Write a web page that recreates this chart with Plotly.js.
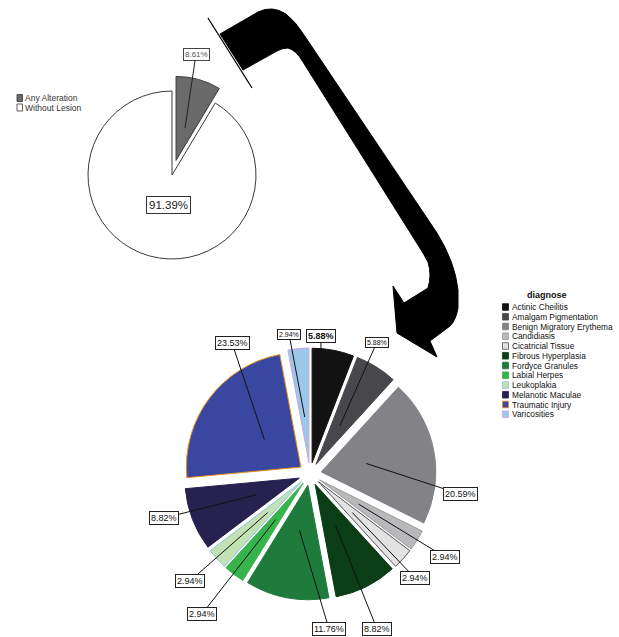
<!DOCTYPE html>
<html>
<head>
<meta charset="utf-8">
<script src="https://cdn.plot.ly/plotly-3.0.1.min.js"></script>
<style>html,body{margin:0;padding:0;background:#fff;}#chart{width:619px;height:637px;}</style>
</head>
<body>
<div id="chart"></div>
<script>
// ---------- data ----------
var overviewLabels = ['Any Alteration', 'Without Lesion'];
var overviewValues = [8.61, 91.39];

var diagnoseLabels = ['Actinic Cheilitis', 'Amalgam Pigmentation', 'Benign Migratory Erythema', 'Candidiasis',
  'Cicatricial Tissue', 'Fibrous Hyperplasia', 'Fordyce Granules', 'Labial Herpes', 'Leukoplakia',
  'Melanotic Maculae', 'Traumatic Injury', 'Varicosities'];
var diagnoseCounts = [2, 2, 7, 1, 1, 3, 4, 1, 1, 3, 8, 1];

// ---------- styles / geometry ----------
var W = 619, H = 637;
var overviewColors = ['#6a6a6a', '#ffffff'];
var diagnoseColors = ['#121212', '#48484c', '#828287', '#b9b9bc', '#e2e2e2', '#0b3d16', '#1f7b3c',
  '#37b34b', '#c2e2b4', '#27214f', '#3a47a0', '#9cc6ea'];
var diagnoseLineColors = ['#121212', '#48484c', '#828287', '#9a9a9e', '#555555', '#0b3d16', '#1f7b3c',
  '#37b34b', '#8fc0e8', '#27214f', '#e8901c', '#c9a8de'];

var small = {cx: 172, cy: 175, r: 84, pull: 0.18};
var big = {cx: 310, cy: 474, r: 114.5, pull: 0.1};

// label box centres (text placement only)
var diagLabelPos = [[321, 336], [377, 342], [460, 494], [445, 557], [415, 578], [377, 629], [329, 629],
  [202, 614], [190, 581], [164, 518], [232, 343], [289, 334]];
var diagLabelSize = [9, 7, 9, 9, 9, 9, 9, 9, 9, 9, 9, 7];
var diagLabelBold = [true, false, false, false, false, false, false, false, false, false, false, false];

function domainFor(g) {
  var R = g.r * (1 + g.pull);
  return {x: [(g.cx - R) / W, (g.cx + R) / W], y: [1 - (g.cy + R) / H, 1 - (g.cy - R) / H]};
}
function midAngles(vals) {
  var tot = vals.reduce(function (a, b) { return a + b; }, 0), cum = 0, out = [];
  vals.forEach(function (v) { out.push(2 * Math.PI * (cum + v / 2) / tot); cum += v; });
  return out;
}
function pct(vals) {
  var tot = vals.reduce(function (a, b) { return a + b; }, 0);
  return vals.map(function (v) { return (v / tot * 100).toFixed(2) + '%'; });
}

var traces = [
  {
    type: 'pie', labels: overviewLabels, values: overviewValues, sort: false, direction: 'clockwise',
    rotation: 0, pull: [small.pull, 0], textinfo: 'none', hoverinfo: 'label+percent',
    marker: {colors: overviewColors, line: {color: '#3a3a3a', width: 1}},
    domain: domainFor(small), showlegend: false
  },
  {
    type: 'pie', labels: diagnoseLabels, values: diagnoseCounts, sort: false, direction: 'clockwise',
    rotation: 0, pull: diagnoseCounts.map(function () { return big.pull; }), textinfo: 'none',
    hoverinfo: 'label+percent',
    marker: {colors: diagnoseColors, line: {color: diagnoseLineColors, width: 1}},
    domain: domainFor(big), showlegend: false
  }
];

var annotations = [];
var shapes = [];

// big pie labels with leader lines
var bigAng = midAngles(diagnoseCounts);
var bigTxt = pct(diagnoseCounts);
bigAng.forEach(function (a, i) {
  var d = big.r * (big.pull + 0.4);
  var txt = diagLabelBold[i] ? '<b>' + bigTxt[i] + '</b>' : bigTxt[i];
  annotations.push({
    xref: 'x', yref: 'y', axref: 'x', ayref: 'y',
    x: big.cx + d * Math.sin(a), y: big.cy - d * Math.cos(a),
    ax: diagLabelPos[i][0], ay: diagLabelPos[i][1],
    text: txt, showarrow: true, arrowhead: 0, arrowwidth: 1, arrowcolor: '#111',
    font: {family: 'Liberation Sans, Arial, sans-serif', size: diagLabelSize[i], color: '#111'},
    bgcolor: '#fff', bordercolor: '#222', borderwidth: 1, borderpad: 1
  });
});

// small pie labels
var smAng = midAngles(overviewValues);
var smTxt = overviewValues.map(function (v) { return v.toFixed(2) + '%'; });
(function () {
  var d = small.r * (small.pull + 0.4);
  annotations.push({
    xref: 'x', yref: 'y', axref: 'x', ayref: 'y',
    x: small.cx + d * Math.sin(smAng[0]), y: small.cy - d * Math.cos(smAng[0]),
    ax: 196, ay: 54,
    text: smTxt[0], showarrow: true, arrowhead: 0, arrowwidth: 1, arrowcolor: '#222',
    font: {family: 'Liberation Sans, Arial, sans-serif', size: 8, color: '#555'},
    bgcolor: '#fff', bordercolor: '#444', borderwidth: 1, borderpad: 1
  });
  var d2 = small.r * 0.37;
  annotations.push({
    xref: 'x', yref: 'y',
    x: small.cx + d2 * Math.sin(smAng[1]) + 5, y: small.cy - d2 * Math.cos(smAng[1]),
    text: smTxt[1], showarrow: false,
    font: {family: 'Liberation Sans, Arial, sans-serif', size: 11.5, color: '#222'},
    bgcolor: '#fff', bordercolor: '#333', borderwidth: 1, borderpad: 2
  });
})();

// small legend
overviewLabels.forEach(function (lab, i) {
  var y = 98 + i * 9.5;
  shapes.push({type: 'rect', xref: 'x', yref: 'y', x0: 17, x1: 22.5, y0: y - 3.5, y1: y + 3.5,
    fillcolor: overviewColors[i], line: {color: '#333', width: 0.8}});
  annotations.push({xref: 'x', yref: 'y', x: 23, y: y, xanchor: 'left', yanchor: 'middle',
    text: lab, showarrow: false,
    font: {family: 'Liberation Sans, Arial, sans-serif', size: 8.5, color: '#333'}});
});

// diagnose legend
annotations.push({xref: 'x', yref: 'y', x: 547, y: 295, xanchor: 'center', yanchor: 'middle',
  text: '<b>diagnose</b>', showarrow: false,
  font: {family: 'Liberation Sans, Arial, sans-serif', size: 9, color: '#111'}});
diagnoseLabels.forEach(function (lab, i) {
  var y = 307 + i * 9.75;
  shapes.push({type: 'rect', xref: 'x', yref: 'y', x0: 502.5, x1: 508.5, y0: y - 3.3, y1: y + 3.3,
    fillcolor: diagnoseColors[i], line: {color: diagnoseLineColors[i] === diagnoseColors[i] ? diagnoseColors[i] : diagnoseLineColors[i], width: 0.8}});
  annotations.push({xref: 'x', yref: 'y', x: 509.5, y: y, xanchor: 'left', yanchor: 'middle',
    text: lab, showarrow: false,
    font: {family: 'Liberation Sans, Arial, sans-serif', size: 8.3, color: '#111'}});
});

// decorative curved arrow
shapes.push({
  type: 'path', xref: 'x', yref: 'y', fillcolor: '#000', line: {color: '#000', width: 1},
  path: 'M 220 34 L 258 12 Q 272 5 286 14 Q 296 22 304 35 L 437 233 Q 455 262 458 290 L 458 308 ' +
    'Q 456 320 450 326 L 430 341 L 437 357 L 397 333 L 393 286 L 404 303 L 428 288 ' +
    'Q 432 275 428 262 L 423 253 L 303 62 Q 296 50 288 48 Q 282 48 277 51 L 243 70 Z'
});
shapes.push({type: 'line', xref: 'x', yref: 'y', x0: 208, y0: 18, x1: 252, y1: 88,
  line: {color: '#000', width: 1.3}});

var layout = {
  width: W, height: H,
  margin: {l: 0, r: 0, t: 0, b: 0, pad: 0},
  paper_bgcolor: '#fff', plot_bgcolor: 'rgba(0,0,0,0)',
  showlegend: false,
  xaxis: {range: [0, W], visible: false, fixedrange: true, domain: [0, 1]},
  yaxis: {range: [H, 0], visible: false, fixedrange: true, domain: [0, 1]},
  shapes: shapes,
  annotations: annotations,
  font: {family: 'Liberation Sans, Arial, sans-serif'}
};

Plotly.newPlot('chart', traces, layout, {displayModeBar: false, staticPlot: true});
</script>
</body>
</html>
